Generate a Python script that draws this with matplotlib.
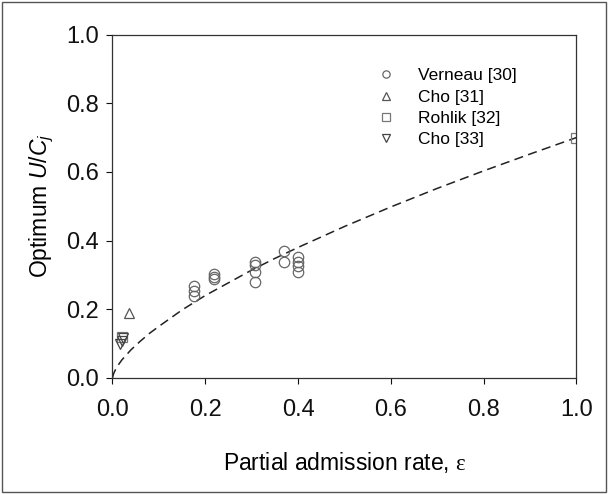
import matplotlib
matplotlib.use('Agg')
import matplotlib.pyplot as plt
from matplotlib.patches import Rectangle

plt.rcParams['font.family'] = ['Liberation Sans', 'DejaVu Sans']
plt.rcParams['mathtext.fontset'] = 'custom'
plt.rcParams['mathtext.rm'] = 'Liberation Sans'
plt.rcParams['mathtext.it'] = 'Liberation Sans:italic'
plt.rcParams['mathtext.sf'] = 'Liberation Serif'

# Verneau [30]
verneau_x = [0.176, 0.176, 0.176, 0.219, 0.219, 0.219,
             0.307, 0.307, 0.307, 0.307, 0.369, 0.369,
             0.400, 0.400, 0.400, 0.400]
verneau_y = [0.269, 0.253, 0.239, 0.302, 0.295, 0.288,
             0.339, 0.329, 0.309, 0.279, 0.370, 0.339,
             0.351, 0.339, 0.326, 0.308]
# Cho [31]
cho31_x = [0.036]
cho31_y = [0.19]
# Rohlik [32]
rohlik_x = [0.021, 1.0]
rohlik_y = [0.12, 0.70]
# Cho [33]
cho33_x = [0.016, 0.021, 0.023]
cho33_y = [0.099, 0.108, 0.115]

# dashed correlation curve
curve_x = [0.0, 0.002, 0.005, 0.01, 0.02, 0.04, 0.06, 0.08, 0.1, 0.15, 0.2,
           0.25, 0.3, 0.35, 0.4, 0.5, 0.6, 0.7, 0.8, 0.9, 1.0]
curve_y = [0.0, 0.011, 0.02, 0.033, 0.052, 0.082, 0.107, 0.13, 0.15, 0.198,
           0.24, 0.277, 0.314, 0.348, 0.38, 0.441, 0.498, 0.552, 0.603,
           0.652, 0.70]

ticks = [0.0, 0.2, 0.4, 0.6, 0.8, 1.0]

fig = plt.figure(figsize=(6.08, 4.94), dpi=100)
ax = fig.add_axes([0.185, 0.235, 0.763, 0.695])

ax.plot(curve_x, curve_y, color='#222222', ls=(0, (6, 3.5)), lw=1.1)

mk = dict(ls='none', ms=7.5, mfc='none', mew=0.9)
ax.plot(verneau_x, verneau_y, marker='o', mec='#666666', label='Verneau [30]', **mk)
ax.plot(cho31_x, cho31_y, marker='^', mec='#555555', label='Cho [31]', **mk)
ax.plot(rohlik_x, rohlik_y, marker='s', mec='#777777', label='Rohlik [32]', **mk)
ax.plot(cho33_x, cho33_y, marker='v', mec='#444444', label='Cho [33]', **mk)

ax.set_xlim(0, 1)
ax.set_ylim(0, 1)
ax.set_xticks(ticks)
ax.set_yticks(ticks)
ax.set_xticklabels(['%.1f' % t for t in ticks])
ax.set_yticklabels(['%.1f' % t for t in ticks])
ax.tick_params(direction='out', length=4, width=0.8, labelsize=17, colors='#111111')
ax.tick_params(axis='x', pad=11)
ax.tick_params(axis='y', pad=6)
for s in ax.spines.values():
    s.set_linewidth(0.9)
    s.set_color('#333333')

ax.set_xlabel(r'Partial admission rate, $\mathsf{ε}$', fontsize=16.5, labelpad=21)
ax.set_ylabel(r'Optimum $U$/$C_j$', fontsize=16.5, labelpad=7)

ax.legend(loc='upper left', bbox_to_anchor=(0.557, 0.922), borderaxespad=0,
          frameon=False, fontsize=12.5, handlelength=1.0, handletextpad=1.3,
          labelspacing=0.35, markerscale=0.7)

fig.patches.append(Rectangle((0.004, 0.004), 0.992, 0.992, transform=fig.transFigure,
                             fill=False, edgecolor='#555555', lw=1))

fig.savefig('out.png', dpi=100)
